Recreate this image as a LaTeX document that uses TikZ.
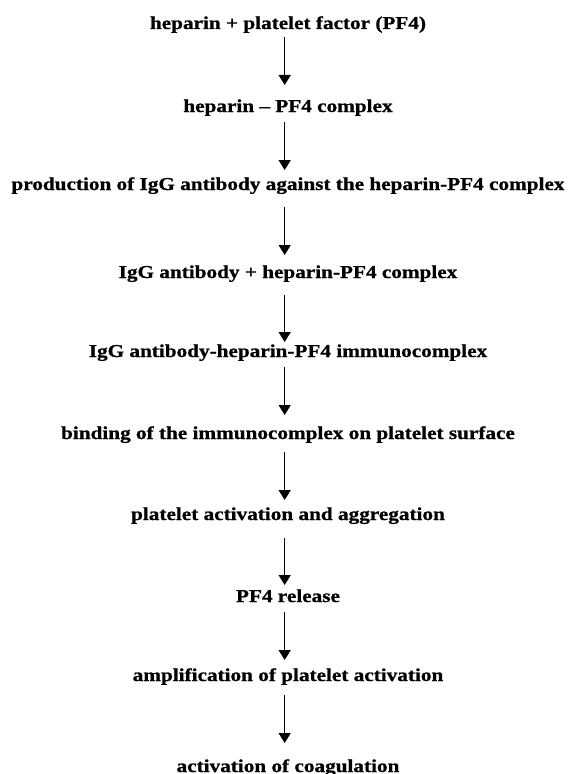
\documentclass[tikz,border=0pt]{standalone}
\usepackage{fontspec}
\setmainfont{Liberation Serif}[FakeStretch=1.17,BoldFeatures={FakeBold=0.9}]
\usetikzlibrary{arrows.meta}
\begin{document}
\begin{tikzpicture}[x=0.75pt,y=-0.75pt,
  stepnode/.style={inner sep=0pt,outer sep=0pt,font=\fontsize{13.6pt}{16pt}\selectfont\bfseries,
    text height=0pt,text depth=0pt,anchor=base},
  arr/.style={-{Triangle[width=9pt,length=7.5pt]},line width=1.1pt}]
\useasboundingbox (0,0) rectangle (578,774);
\node[stepnode] (n1) at (288,29) {heparin + platelet factor (PF4)};
\node[stepnode] (n2) at (288,112) {heparin -- PF4 complex};
\node[stepnode] (n3) at (288,190) {production of IgG antibody against the heparin-PF4 complex};
\node[stepnode] (n4) at (288,278) {IgG antibody + heparin-PF4 complex};
\node[stepnode] (n5) at (288,357) {IgG antibody-heparin-PF4 immunocomplex};
\node[stepnode] (n6) at (288,439) {binding of the immunocomplex on platelet surface};
\node[stepnode] (n7) at (288,520) {platelet activation and aggregation};
\node[stepnode] (n8) at (288,602) {PF4 release};
\node[stepnode] (n9) at (288,681) {amplification of platelet activation};
\node[stepnode] (n10) at (288,772) {activation of coagulation};
\tikzset{ax/.style={xshift=-2.5pt}}
\draw[arr,shorten <=6pt,shorten >=20.25pt] ([ax]n1.center) -- ([ax]n2.center);
\draw[arr,shorten <=7.5pt,shorten >=15pt] ([ax]n2.center) -- ([ax]n3.center);
\draw[arr,shorten <=12.75pt,shorten >=17.25pt] ([ax]n3.center) -- ([ax]n4.center);
\draw[arr,shorten <=12.75pt,shorten >=11.25pt] ([ax]n4.center) -- ([ax]n5.center);
\draw[arr,shorten <=7.5pt,shorten >=18pt] ([ax]n5.center) -- ([ax]n6.center);
\draw[arr,shorten <=9.75pt,shorten >=15pt] ([ax]n6.center) -- ([ax]n7.center);
\draw[arr,shorten <=13.5pt,shorten >=12.75pt] ([ax]n7.center) -- ([ax]n8.center);
\draw[arr,shorten <=7.5pt,shorten >=15.75pt] ([ax]n8.center) -- ([ax]n9.center);
\draw[arr,shorten <=10.5pt,shorten >=21.75pt] ([ax]n9.center) -- ([ax]n10.center);
\end{tikzpicture}
\end{document}
